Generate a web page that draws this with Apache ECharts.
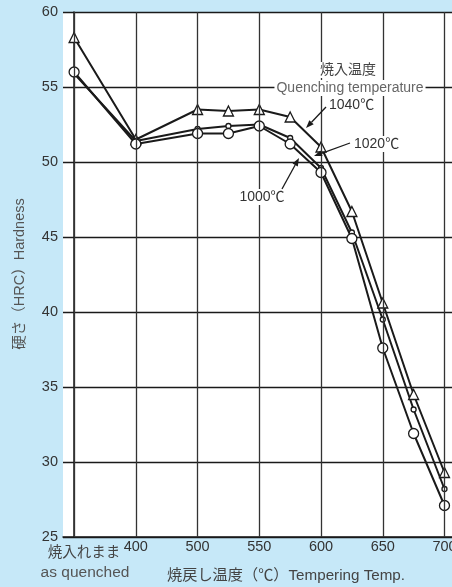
<!DOCTYPE html>
<html>
<head>
<meta charset="utf-8">
<script src="https://cdn.jsdelivr.net/npm/echarts@6/dist/echarts.min.js"></script>
<style>
html,body{margin:0;padding:0;background:#c6e8f8;}
#c{width:452px;height:587px;}
</style>
</head>
<body>
<div id="c"></div>
<script>
// ---- data ----
const xLabels = ['焼入れまま', '400', '500', '550', '600', '650', '700'];
const temps = ['AQ', 400, 500, 525, 550, 575, 600, 625, 650, 675, 700];
const h1040 = [58.3, 51.5, 53.5, 53.4, 53.5, 53.0, 51.0, 46.7, 40.6, 34.5, 29.3];
const h1020 = [55.9, 51.4, 52.2, 52.4, 52.5, 51.6, 49.6, 45.3, 39.5, 33.5, 28.2];
const h1000 = [56.0, 51.2, 51.9, 51.9, 52.4, 51.2, 49.3, 44.9, 37.6, 31.9, 27.1];
const yTicks = [25, 30, 35, 40, 45, 50, 55, 60];

// broken x scale: as-quenched, 400, then 500..700 evenly by 50
function pos(t) {
  if (t === 'AQ') return 0;
  if (t === 400) return 1;
  return 2 + (t - 500) / 50;
}
function pairs(arr) { return arr.map((v, i) => [pos(temps[i]), v]); }

const FONT = '"Liberation Sans", Arial, "Noto Sans CJK JP", sans-serif';
const lineCol = '#1a1a1a';

function lineSeries(name, arr, symbol, size) {
  return {
    name: name, type: 'line', data: pairs(arr), z: 3,
    symbol: symbol, symbolSize: size,
    lineStyle: { color: lineCol, width: 2 },
    itemStyle: { color: '#fff', borderColor: lineCol, borderWidth: 1.3 },
    emphasis: { disabled: true }, animation: false
  };
}

function arrow(x1, y1, x2, y2) {
  const a = Math.atan2(y2 - y1, x2 - x1), L = 8, W = 3;
  const bx = x2 - L * Math.cos(a), by = y2 - L * Math.sin(a);
  const px = -Math.sin(a) * W, py = Math.cos(a) * W;
  return [
    { type: 'line', shape: { x1: x1, y1: y1, x2: bx, y2: by }, style: { stroke: lineCol, lineWidth: 1.3 }, z: 10 },
    { type: 'polygon', shape: { points: [[x2, y2], [bx + px, by + py], [bx - px, by - py]] }, style: { fill: lineCol }, z: 10 }
  ];
}

function txt(s, x, y, size, color, align, bg) {
  return {
    type: 'text', x: x, y: y, z: 9,
    style: {
      text: s, font: size + 'px ' + FONT, fill: color,
      align: align || 'center', verticalAlign: 'middle',
      textAlign: align || 'center', textVerticalAlign: 'middle',
      backgroundColor: bg || 'transparent', padding: bg ? [1, 2] : 0
    }
  };
}

const chart = echarts.init(document.getElementById('c'), null, { renderer: 'canvas' });
chart.setOption({
  backgroundColor: '#c6e8f8',
  animation: false,
  grid: {
    left: 63, top: 12, width: 400, height: 525, backgroundColor: '#fff', show: true, borderWidth: 0,
    outerBoundsMode: 'none', containLabel: false
  },
  xAxis: {
    type: 'value', min: -0.18, max: 6.3,
    axisLine: { show: true, onZero: false, lineStyle: { color: lineCol, width: 1.5 } },
    axisTick: { show: false },
    splitLine: { show: false },
    axisLabel: {
      customValues: [1, 2, 3, 4, 5, 6],
      formatter: v => xLabels[Math.round(v)],
      color: '#333', fontSize: 14.5, fontFamily: FONT, margin: 3, showMaxLabel: true, hideOverlap: false
    }
  },
  yAxis: {
    type: 'value', min: yTicks[0], max: yTicks[yTicks.length - 1], interval: 5,
    axisLine: { show: true, lineStyle: { color: lineCol, width: 1.5 } },
    axisTick: { show: false },
    splitLine: { show: true, lineStyle: { color: '#1a1a1a', width: 1.3 } },
    axisLabel: { color: '#333', fontSize: 14.5, fontFamily: FONT, margin: 5 }
  },
  series: [
    {
      type: 'line', data: [], z: 1, silent: true,
      markLine: {
        silent: true, symbol: 'none', animation: false,
        label: { show: false },
        lineStyle: { color: '#333', width: 1.3, type: 'solid' },
        emphasis: { disabled: true },
        data: [0, 1, 2, 3, 4, 5, 6].map(v => ({ xAxis: v }))
      }
    },
    lineSeries('1040', h1040, 'triangle', 10),
    lineSeries('1020', h1020, 'circle', 5),
    lineSeries('1000', h1000, 'circle', 10)
  ],
  graphic: [
    txt('焼入温度', 348, 70, 14, '#444', 'center', '#fff'),
    txt('Quenching temperature', 350, 88, 14, '#666', 'center', '#fff'),
    txt('1040℃', 327, 105, 14, '#333', 'left', '#fff'),
    txt('1020℃', 352, 144, 14, '#333', 'left', '#fff'),
    txt('1000℃', 262, 197, 14, '#333', 'center', '#fff'),
    ...arrow(326, 107, 306, 128),
    ...arrow(350, 143, 314, 156),
    ...arrow(282, 189, 299, 158),
    txt('焼入れまま', 84, 553, 14.5, '#444', 'center'),
    txt('as quenched', 85, 573, 15.5, '#555', 'center'),
    txt('焼戻し温度（℃）Tempering Temp.', 286, 576, 15.2, '#444', 'center'),
    {
      type: 'text', x: 20, y: 274, rotation: Math.PI / 2, z: 9,
      style: {
        text: '硬さ（HRC）Hardness', font: '14.5px ' + FONT, fill: '#555',
        align: 'center', verticalAlign: 'middle', textAlign: 'center', textVerticalAlign: 'middle'
      }
    }
  ]
});
</script>
</body>
</html>
